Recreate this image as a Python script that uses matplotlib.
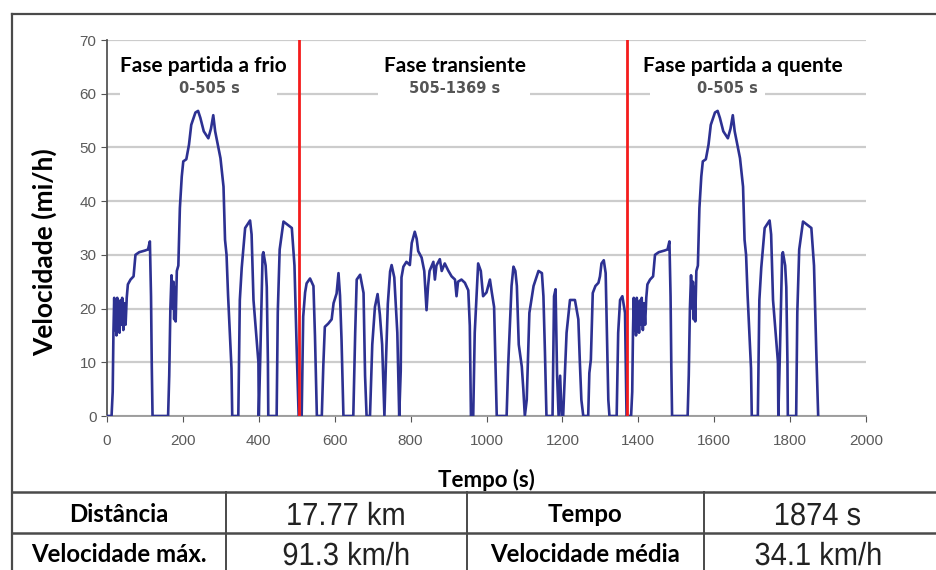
import matplotlib
matplotlib.use("Agg")
import matplotlib.pyplot as plt
from matplotlib.patches import Rectangle, PathPatch
from matplotlib.lines import Line2D
from matplotlib.textpath import TextPath
from matplotlib.font_manager import FontProperties
from matplotlib.transforms import Affine2D, IdentityTransform

# FTP-75 speed trace (mi/h), read phase by phase
cold_t = [0, 12, 15, 17, 19, 21, 23, 25, 27, 29, 31, 33, 35, 38, 40, 43, 46, 49, 52, 55,
          62, 70, 75, 85, 100, 108, 113, 116, 118, 120, 161, 164, 167, 170, 173, 175, 177,
          179, 181, 184, 188, 192, 197, 201, 209, 216, 222, 233, 240, 246, 255, 267, 274,
          280, 285, 293, 299, 307, 311, 315, 319, 328, 330, 346, 350, 355, 364, 377, 381,
          386, 399, 400, 404, 410, 412, 418, 421, 424, 425, 447, 450, 455, 465, 487, 494,
          500, 505]
cold_v = [0, 0, 4.5, 15.7, 22, 16, 21, 15, 22, 17, 20, 15.5, 21.5, 17, 22, 16, 21, 17, 22, 24.5,
          25.4, 26, 30, 30.5, 30.8, 31, 32.5, 22.3, 9.3, 0, 0, 7.6, 20, 26.2, 20, 25, 18,
          24, 17.6, 27, 28, 38.7, 44.6, 47.4, 47.8, 50.5, 54.2, 56.5, 56.8, 55.5, 53, 51.7, 53.5,
          56, 53, 50.1, 48, 42.7, 32.8, 30, 22.5, 8.9, 0, 0, 21.6, 27.6, 35, 36.4, 33.8,
          21.6, 10, 0, 11.3, 30, 30.5, 28, 24, 10, 0, 0, 19.3, 31, 36.2, 35, 28,
          12, 0]

trans_t = [505, 513, 517, 522, 526, 535, 544, 548, 553, 566, 570, 574, 583, 592, 597, 605,
           610, 614, 618, 623, 649, 654, 658, 667, 676, 680, 684, 693, 699, 706, 713, 719,
           725, 731, 735, 740, 746, 750, 757, 765, 770, 774, 776, 781, 789, 798, 803, 811,
           816, 820, 829, 836, 842, 846, 850, 860, 864, 868, 877, 882, 890, 899, 908, 917,
           921, 925, 934, 943, 952, 956, 959, 965, 969, 978, 985, 991, 1000, 1009, 1014,
           1020, 1027, 1053, 1057, 1066, 1071, 1076, 1080, 1085, 1093, 1097, 1101, 1106,
           1113, 1124, 1137, 1146, 1150, 1154, 1158, 1174, 1178, 1182, 1186, 1190, 1194,
           1198, 1202, 1211, 1220, 1233, 1242, 1246, 1250, 1255, 1268, 1271, 1275, 1280,
           1287, 1295, 1299, 1303, 1309, 1314, 1318, 1321, 1324, 1343, 1347, 1352, 1358,
           1365, 1369]
trans_v = [0, 0, 18.5, 23, 24.7, 25.6, 24.2, 14.9, 0, 0, 9.4, 16.6, 17.2, 18, 21, 22.8,
           26.6, 22.4, 14.2, 0, 0, 15.5, 25.4, 26.3, 22.9, 7.5, 0, 0, 13.3, 20.3, 22.7, 18.9,
           13.3, 0, 10, 20.9, 26.9, 28.1, 25.8, 15.5, 0, 8.4, 25.8, 27.8, 28.7, 28.1, 32.2, 34.3,
           33, 30.7, 29.5, 27, 19.7, 24.2, 27, 28.7, 25.4, 28, 29.2, 27, 28.4, 27.1, 26, 25.4,
           22.3, 25, 25.4, 24.8, 23.4, 16.8, 0, 0, 15.5, 28.4, 27, 22.3, 23, 25.4, 23,
           20.3, 0, 0, 9.2, 24.2, 27.8, 27, 24.2, 13.3, 9.2, 5, 0, 3,
           19.2, 24.2, 27, 26.6, 22.3, 11.9, 0, 0, 22.3, 23.6, 7.5, 0, 7.5,
           0, 0, 15.5, 21.6, 21.6, 18, 10, 3, 0, 0, 8, 10.5, 22.9,
           24.2, 24.8, 26, 28.4, 29, 26.6, 13.3, 3, 0, 0, 15.5, 21.6, 22.3,
           19.2, 0]

# hot start repeats the cold-start schedule after the transient phase
HOT_START = 1369
phase_bounds = [505, 1369]

time_s = cold_t + trans_t[1:] + [t + HOT_START for t in cold_t[1:]]
speed = cold_v + trans_v[1:] + cold_v[1:]

phase_titles = ["Fase partida a frio", "Fase transiente", "Fase partida a quente"]
phase_ranges = ["0-505 s", "505-1369 s", "0-505 s"]
title_x = [253, 917, 1676]
range_x = [271, 917, 1634]
label_boxes = [(34, 448), (714, 1115), (1431, 1734)]

table_rows = [["Distância", "17.77 km", "Tempo", "1874 s"],
              ["Velocidade máx.", "91.3 km/h", "Velocidade média", "34.1 km/h"]]

BOLD = ["Lato", "DejaVu Sans"]
PLAIN = ["Liberation Sans", "DejaVu Sans"]

W, H = 936, 570


def narrow_text(fig, cx, cy, txt, cap_px, squeeze=0.91, color="#222222"):
    """Condensed text centred at pixel (cx, cy) measured from the top-left corner."""
    prop = FontProperties(family="Liberation Sans")
    path = TextPath((0, 0), txt, size=100, prop=prop)
    ext = path.get_extents()
    cap = TextPath((0, 0), "1", size=100, prop=prop).get_extents().height
    s = cap_px / cap
    tr = (Affine2D()
          .translate(-(ext.x0 + ext.x1) / 2, -cap / 2)
          .scale(s * squeeze, s)
          .translate(cx, H - cy))
    fig.add_artist(PathPatch(path, transform=tr + IdentityTransform(),
                             facecolor=color, edgecolor="none", lw=0))


fig = plt.figure(figsize=(W / 100, H / 100), dpi=100)
ax = fig.add_axes([107 / W, 1 - 416 / H, 759 / W, 376 / H])

ax.plot(time_s, speed, color="#2d3192", linewidth=1.9, zorder=3)
for xb in phase_bounds:
    ax.axvline(xb, color="#f41c1c", linewidth=2, zorder=4)

ax.set_xlim(0, 2000)
ax.set_ylim(0, 70)
ax.set_xticks(range(0, 2001, 200))
ax.set_yticks(range(0, 71, 10))
ax.grid(axis="y", color="#cccccc", linewidth=1.6, zorder=0)
ax.set_axisbelow(True)
for side in ("top", "right"):
    ax.spines[side].set_visible(False)
ax.spines["left"].set_color("#555555")
ax.spines["left"].set_linewidth(1.3)
ax.spines["bottom"].set_color("#999999")
ax.spines["bottom"].set_linewidth(1.3)
ax.tick_params(axis="both", colors="#555555", labelcolor="#5a5a5a", labelsize=11,
               direction="out", length=4)
ax.tick_params(axis="x", pad=9)
for lbl in ax.get_xticklabels() + ax.get_yticklabels():
    lbl.set_family(PLAIN)

ax.set_ylabel("Velocidade (mi/h)", fontsize=19, fontweight="bold", family=BOLD)
ax.yaxis.set_label_coords(-0.066, 0.436)
ax.set_xlabel("Tempo (s)", fontsize=16, fontweight="bold", family=BOLD, labelpad=15)

# phase labels sit on white boxes that hide the 60 mi/h grid line
for (x0, x1) in label_boxes:
    ax.add_patch(Rectangle((x0, 57.5), x1 - x0, 9, facecolor="white", edgecolor="none", zorder=1))
for name, rng, tx, rx in zip(phase_titles, phase_ranges, title_x, range_x):
    ax.text(tx, 65.2, name, ha="center", va="center", fontsize=15, fontweight="bold",
            family=BOLD, color="black", zorder=5)
    ax.text(rx, 61, rng, ha="center", va="center", fontsize=10.5, fontweight="bold",
            family=["DejaVu Sans"], color="#555555", zorder=5)

# outer frame and summary table
frame = "#4a4a4a"
fig.add_artist(Line2D([12 / W, 12 / W], [0, 1 - 14 / H], color=frame, linewidth=1.6))
fig.add_artist(Line2D([12 / W, 1], [1 - 14 / H, 1 - 14 / H], color=frame, linewidth=1.6))
for py in (492, 533):
    fig.add_artist(Line2D([12 / W, 1], [1 - py / H, 1 - py / H], color=frame, linewidth=1.8))
for px in (226, 467, 704):
    fig.add_artist(Line2D([px / W, px / W], [0, 1 - 492 / H], color=frame, linewidth=1.4))

col_centers = [119, 346, 585, 818]
row_centers = [515, 555]
for row, py in zip(table_rows, row_centers):
    for j, (txt, px) in enumerate(zip(row, col_centers)):
        if j % 2 == 0:
            fig.text(px / W, 1 - py / H, txt, ha="center", va="center", fontsize=17.3,
                     fontweight="bold", family=BOLD)
        else:
            narrow_text(fig, px, py - 1, txt, cap_px=22)

fig.savefig("out.png", dpi=100)
